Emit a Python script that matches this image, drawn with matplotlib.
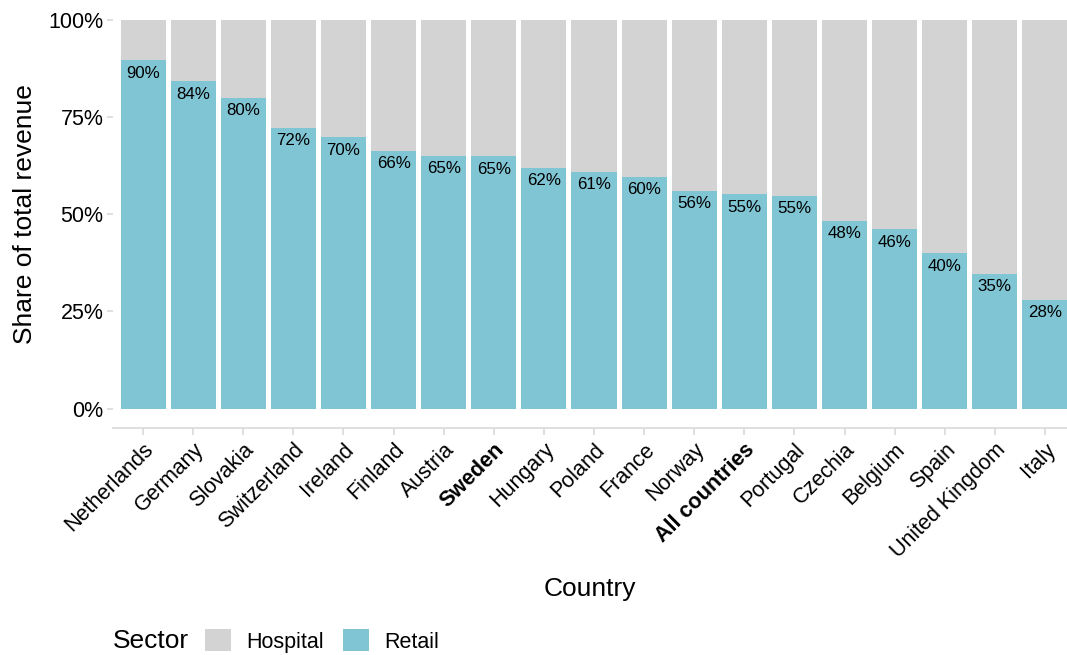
import matplotlib.pyplot as plt
from matplotlib.patches import Patch
from matplotlib.ticker import FuncFormatter

plt.rcParams['font.family'] = ['Liberation Sans', 'DejaVu Sans']

countries = ['Netherlands', 'Germany', 'Slovakia', 'Switzerland', 'Ireland', 'Finland',
             'Austria', 'Sweden', 'Hungary', 'Poland', 'France', 'Norway', 'All countries',
             'Portugal', 'Czechia', 'Belgium', 'Spain', 'United Kingdom', 'Italy']
retail = [0.897, 0.843, 0.800, 0.723, 0.698, 0.663, 0.651, 0.649, 0.620, 0.609, 0.596,
          0.560, 0.551, 0.548, 0.483, 0.462, 0.400, 0.347, 0.280]
hospital = [1 - r for r in retail]
bold_labels = ['Sweden', 'All countries']

teal = '#80C5D4'
grey = '#D3D3D3'

fig = plt.figure(figsize=(10.67, 6.55), dpi=100)
ax = fig.add_axes([113 / 1067, 1 - 428 / 655, (1067 - 113) / 1067, 427.5 / 655])

x = range(len(countries))
ax.bar(x, retail, width=0.9, color=teal, linewidth=0)
ax.bar(x, hospital, bottom=retail, width=0.9, color=grey, linewidth=0)

for i, r in enumerate(retail):
    ax.annotate(f'{round(r * 100):.0f}%', (i, r), xytext=(0, -4), textcoords='offset points',
                ha='center', va='top', fontsize=12.2, color='black')

ax.set_xlim(-0.6, 18.44)
ax.set_ylim(-0.05, 1.05)
ax.set_yticks([0, 0.25, 0.5, 0.75, 1.0])
ax.yaxis.set_major_formatter(FuncFormatter(lambda v, p: f'{v * 100:.0f}%'))
ax.set_xticks(list(x))
ax.set_xticklabels(countries, rotation=45, ha='right', rotation_mode='anchor')
for lab in ax.get_xticklabels():
    if lab.get_text() in bold_labels:
        lab.set_fontweight('bold')

for s in ['top', 'right', 'left']:
    ax.spines[s].set_visible(False)
ax.spines['bottom'].set_color('#D9D9D9')
ax.spines['bottom'].set_linewidth(1.2)
ax.tick_params(axis='x', colors='#D9D9D9', labelcolor='black', labelsize=15.5, length=5, width=1.2, pad=3)
ax.tick_params(axis='y', colors='#D9D9D9', labelcolor='black', labelsize=15.5, length=4, width=1.2, pad=3)

ax.set_ylabel('Share of total revenue', fontsize=19, labelpad=8)
ax.set_xlabel('Country', fontsize=19, labelpad=11)

# legend along the bottom, title to the left
ly = 1 - 641 / 655
fig.text(113 / 1067, ly, 'Sector', fontsize=19, va='center', ha='left')
handles = [Patch(facecolor=grey, label='Hospital'), Patch(facecolor=teal, label='Retail')]
fig.legend(handles=handles, loc='center left', bbox_to_anchor=(205 / 1067, ly), ncol=2,
           frameon=False, fontsize=15.5, handlelength=1.2, handleheight=1.2,
           handletextpad=0.7, columnspacing=0.9, borderaxespad=0, borderpad=0)

fig.savefig('out.png', dpi=100)
